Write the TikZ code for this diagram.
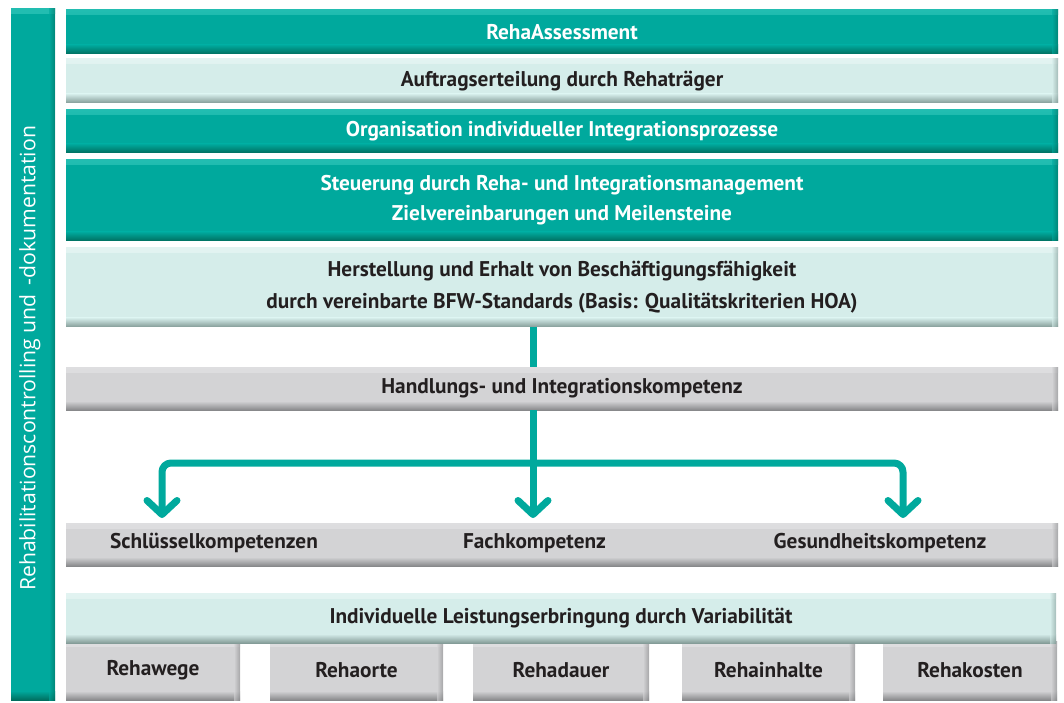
\documentclass[tikz,border=0pt]{standalone}
\usepackage{fontspec}
\setmainfont{PT Sans}
\newfontfamily\sidefont{Open Sans}
\usetikzlibrary{arrows.meta}
\definecolor{tealbase}{HTML}{00A99D}
\definecolor{tealdark}{HTML}{006E5F}
\definecolor{teallight}{HTML}{22BDB1}
\definecolor{lightbase}{HTML}{D5EDEA}
\definecolor{lightdark}{HTML}{849C98}
\definecolor{lighthi}{HTML}{E2F3F1}
\definecolor{graybase}{HTML}{D3D3D5}
\definecolor{graydark}{HTML}{88898B}
\definecolor{grayhi}{HTML}{DEDEE0}
\definecolor{txt}{HTML}{231F20}
\tikzset{
  boxbase/.style n args={3}{fill=#1, draw=none, inner sep=0pt, outer sep=0pt, align=center,
    path picture={
      \shade[top color=#3, bottom color=#1] (path picture bounding box.north west) rectangle ([yshift=-5pt]path picture bounding box.north east);
      \shade[top color=#1, bottom color=#2] ([yshift=9pt]path picture bounding box.south west) rectangle (path picture bounding box.south east);
      \shade[left color=#1, right color=#2, opacity=0.6] ([xshift=-6pt]path picture bounding box.north east) rectangle (path picture bounding box.south east);
    }},
  tealbox/.style={boxbase={tealbase}{tealdark}{teallight}, text=white, font=\bfseries\fontsize{21.3}{30}\selectfont},
  lightbox/.style={boxbase={lightbase}{lightdark}{lighthi}, text=txt, font=\bfseries\fontsize{21.3}{32}\selectfont},
  graybox/.style={boxbase={graybase}{graydark}{grayhi}, text=txt, font=\bfseries\fontsize{21.3}{30}\selectfont},
  wide/.style={minimum width=992pt},
  lbl/.style={text=txt, font=\bfseries\fontsize{21.3}{24}\selectfont, inner sep=0pt},
  flow/.style={draw=tealbase, line width=7pt, line join=round, rounded corners=9pt,
    -{Straight Barb[length=14pt, width=30pt, line cap=round, line join=round]}},
  trunk/.style={draw=tealbase, line width=7pt}
}
\begin{document}
\begin{tikzpicture}[x=1pt,y=1pt]
\useasboundingbox (0,0) rectangle (1064,702);
% side bar
\node[boxbase={tealbase}{tealdark}{teallight}, minimum width=44pt, minimum height=691pt] (side) at (33,347.5) {};
\node[rotate=90, anchor=base, text=white, font=\sidefont\fontsize{21.2}{24}\selectfont, inner sep=0pt] (sidetext) at (35.5,343.5) {Rehabilitationscontrolling und\, -dokumentation};
\coordinate (jn) at (533,239);
% boxes
\node[tealbox, wide, minimum height=44pt] (b1) at (562,670) {RehaAssessment};
\node[lightbox, wide, minimum height=44pt] (b2) at (562,621) {Auftragserteilung durch Rehaträger};
\node[tealbox, wide, minimum height=43pt] (b3) at (562,570.5) {Organisation individueller Integrationsprozesse};
\node[tealbox, wide, minimum height=81pt] (b4) at (562,501.5) {Steuerung durch Reha- und Integrationsmanagement\\Zielvereinbarungen und Meilensteine};
\node[lightbox, wide, minimum height=79pt] (b5) at (562,414.5) {Herstellung und Erhalt von Beschäftigungsfähigkeit\\durch vereinbarte BFW-Standards (Basis: Qualitätskriterien HOA)};
\coordinate (t0) at (533,327);
\draw[trunk] (t0 |- b5.south) -- (t0 |- 0,335);
\node[graybox, wide, minimum height=43pt] (b6) at (562,313.5) {Handlungs- und Integrationskompetenz};
\node[graybox, wide, minimum height=43pt] (b7) at (562,157.5) {};
\node[lbl] (k1) at (214,159) {Schlüsselkompetenzen};
\node[lbl] (k2) at (534.5,159) {Fachkompetenz};
\node[lbl] (k3) at (880,159) {Gesundheitskompetenz};
\coordinate (ta) at (162,184);
\coordinate (tb) at (533,184);
\coordinate (tc) at (903,184);
% bottom boxes
\node[graybox, minimum width=174pt, minimum height=59pt] (r1) at (153,31.5) {Rehawege};
\node[graybox, minimum width=173pt, minimum height=59pt] (r2) at (356.5,31.5) {Rehaorte};
\node[graybox, minimum width=176pt, minimum height=59pt] (r3) at (561,31.5) {Rehadauer};
\node[graybox, minimum width=173pt, minimum height=59pt] (r4) at (768.5,31.5) {Rehainhalte};
\node[graybox, minimum width=174pt, minimum height=59pt] (r5) at (970,31.5) {Rehakosten};
\node[lightbox, minimum width=990pt, minimum height=50pt] (b8) at (561,84) {Individuelle Leistungserbringung durch Variabilität};
% connectors
\draw[flow] (b6.south -| tb) -- (tb);
\draw[flow] (jn) -| (ta);
\draw[flow] (jn) -| (tc);
\end{tikzpicture}
\end{document}
